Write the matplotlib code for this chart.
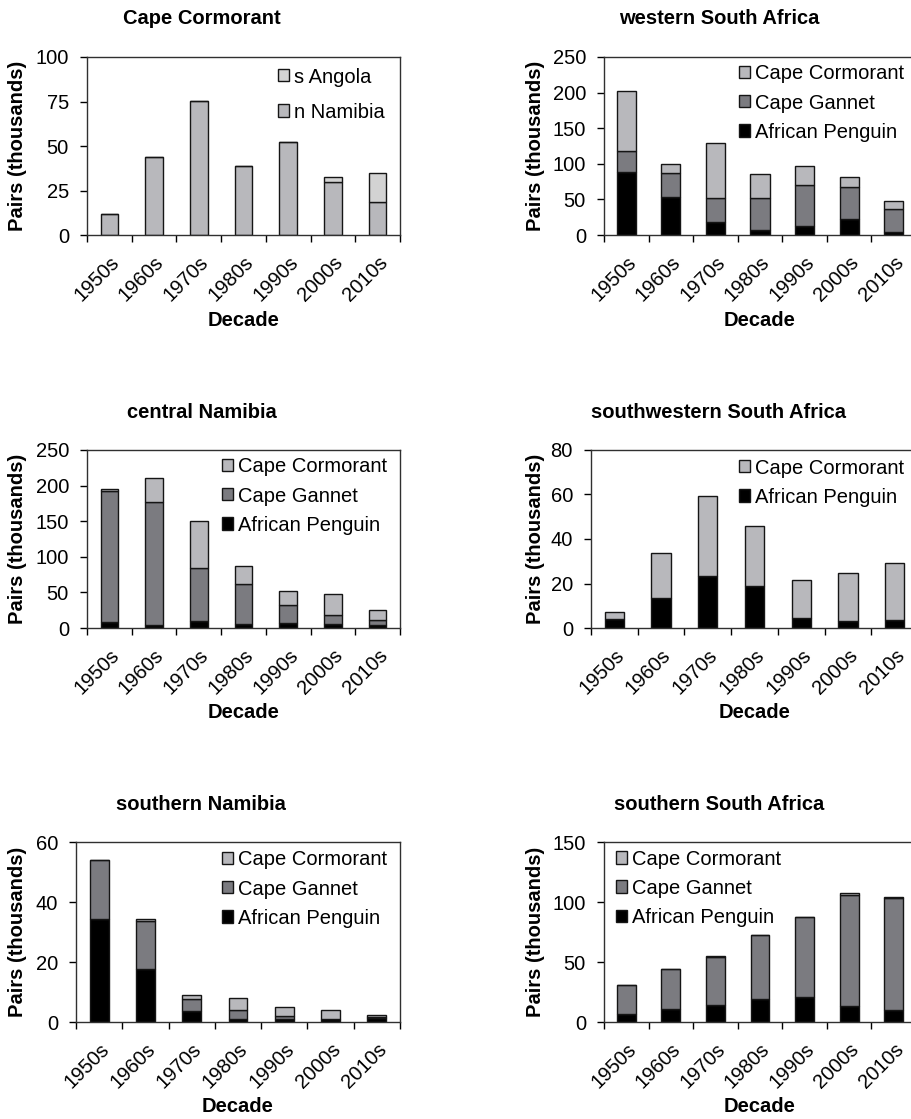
import numpy as np
import matplotlib
matplotlib.use('Agg')
import matplotlib.pyplot as plt

plt.rcParams['font.family'] = ['Liberation Sans', 'DejaVu Sans']
plt.rcParams['font.size'] = 14.5

decades = ['1950s', '1960s', '1970s', '1980s', '1990s', '2000s', '2010s']

# Cape Cormorant, by region
cc_n_namibia = [11.8, 43.6, 75.3, 38.5, 52.0, 29.9, 18.3]
cc_s_angola = [0, 0, 0, 0, 0, 2.6, 16.3]

# western South Africa
wsa_penguin = [88.3, 53.7, 18.7, 7.0, 13.1, 22.9, 3.7]
wsa_gannet = [29.9, 32.7, 33.2, 44.9, 57.0, 44.9, 32.3]
wsa_cormorant = [83.7, 12.7, 78.0, 33.1, 26.2, 13.5, 11.2]

# central Namibia
cn_penguin = [8.4, 4.7, 10.3, 5.1, 6.5, 5.1, 4.7]
cn_gannet = [184.1, 172.9, 73.8, 56.6, 25.3, 13.6, 7.0]
cn_cormorant = [3.3, 32.7, 66.4, 25.7, 19.6, 29.4, 13.5]

# southwestern South Africa
swsa_penguin = [4.0, 13.3, 23.2, 19.0, 4.5, 3.0, 3.6]
swsa_cormorant = [3.2, 20.2, 36.3, 27.0, 17.0, 21.8, 25.7]

# southern Namibia
sn_penguin = [34.4, 17.6, 3.7, 1.0, 1.1, 0.9, 1.4]
sn_gannet = [19.5, 16.0, 4.1, 3.0, 0.9, 0.1, 0.3]
sn_cormorant = [0.0, 0.8, 1.2, 3.9, 3.0, 3.0, 0.7]

# southern South Africa
ssa_penguin = [7.0, 11.1, 13.9, 18.9, 20.8, 13.0, 10.3]
ssa_gannet = [24.1, 33.3, 40.0, 53.9, 66.4, 93.1, 93.0]
ssa_cormorant = [0.0, 0.0, 1.4, 0.0, 0.0, 1.2, 1.0]

species = ['African Penguin', 'Cape Gannet', 'Cape Cormorant']

LIGHT = '#b8b8bc'
MID = '#7b7b80'
PALE = '#d3d3d3'
EDGE = '#151515'

W, H = 912, 1119
fig = plt.figure(figsize=(W / 100, H / 100), dpi=100)


def add_axes_px(left, top, right, bottom):
    return fig.add_axes([left / W, 1 - bottom / H, (right - left) / W, (bottom - top) / H])


def draw(ax, layers, names, colors, ymax, ystep, width, leg_xy, leg_space, ylab_px):
    x = np.arange(len(decades))
    base = np.zeros(len(decades))
    bars = []
    for vals, name, col in zip(layers, names, colors):
        b = ax.bar(x, vals, width, bottom=base, color=col,
                   edgecolor=EDGE, linewidth=1.0, label=name)
        base = base + np.array(vals)
        bars.append(b)

    ax.set_xlim(-0.5, len(decades) - 0.5)
    ax.set_ylim(0, ymax)
    ax.set_yticks(np.arange(0, ymax + 0.1, ystep))
    ax.set_xticks(x)
    ax.set_xticklabels(decades, rotation=45, ha='right', va='top',
                       rotation_mode='anchor')
    ax.set_xticks(np.arange(-0.5, len(decades), 1), minor=True)
    ax.tick_params(axis='x', which='major', length=0, pad=13)
    ax.tick_params(axis='x', which='minor', length=5, width=1, direction='out')
    ax.tick_params(axis='y', length=5, width=1, direction='out', pad=8)
    for s in ax.spines.values():
        s.set_color('#303030')
        s.set_linewidth(1.0)

    ax.set_xlabel('Decade', fontweight='bold')
    ax.xaxis.label.set_va('center')
    ax.xaxis.set_label_coords(0.5, -85 / ax.bbox.height)
    ax.set_ylabel('Pairs (thousands)', fontweight='bold')
    ax.yaxis.label.set_va('center')
    ax.yaxis.set_label_coords(ylab_px / ax.bbox.width, 0.5)

    ax.legend(bars[::-1], names[::-1], loc='upper left', bbox_to_anchor=leg_xy,
              frameon=False, borderpad=0, borderaxespad=0,
              handlelength=0.55, handleheight=0.55, handletextpad=0.25,
              labelspacing=leg_space, fontsize=14.5)


def title(x, y, text):
    fig.text(x / W, 1 - y / H, text, ha='center', va='center', fontweight='bold')


# Cape Cormorant
ax = add_axes_px(87, 57, 400, 235)
draw(ax, [cc_n_namibia, cc_s_angola], ['n Namibia', 's Angola'], [LIGHT, PALE],
     100, 25, 0.39, (0.61, 0.941), 0.8, -69)
title(202, 18, 'Cape Cormorant')

# western South Africa
ax = add_axes_px(604, 57, 916, 235)
draw(ax, [wsa_penguin, wsa_gannet, wsa_cormorant], species, ['black', MID, LIGHT],
     250, 50, 0.43, (0.433, 0.958), 0.5, -68)
title(719, 18, 'western South Africa')

# central Namibia
ax = add_axes_px(87, 450, 400, 628)
draw(ax, [cn_penguin, cn_gannet, cn_cormorant], species, ['black', MID, LIGHT],
     250, 50, 0.395, (0.431, 0.958), 0.5, -69)
title(202, 413, 'central Namibia')

# southwestern South Africa
ax = add_axes_px(591, 450, 918, 628)
draw(ax, [swsa_penguin, swsa_cormorant], ['African Penguin', 'Cape Cormorant'],
     ['black', LIGHT], 80, 20, 0.41, (0.453, 0.952), 0.5, -55)
title(719, 413, 'southwestern South Africa')

# southern Namibia
ax = add_axes_px(76, 842, 400, 1022)
draw(ax, [sn_penguin, sn_gannet, sn_cormorant], species, ['black', MID, LIGHT],
     60, 20, 0.41, (0.451, 0.953), 0.5, -58)
title(201, 805, 'southern Namibia')

# southern South Africa
ax = add_axes_px(604, 842, 916, 1022)
draw(ax, [ssa_penguin, ssa_gannet, ssa_cormorant], species, ['black', MID, LIGHT],
     150, 50, 0.425, (0.038, 0.958), 0.5, -68)
title(719, 805, 'southern South Africa')

fig.savefig('out.png', dpi=100)
